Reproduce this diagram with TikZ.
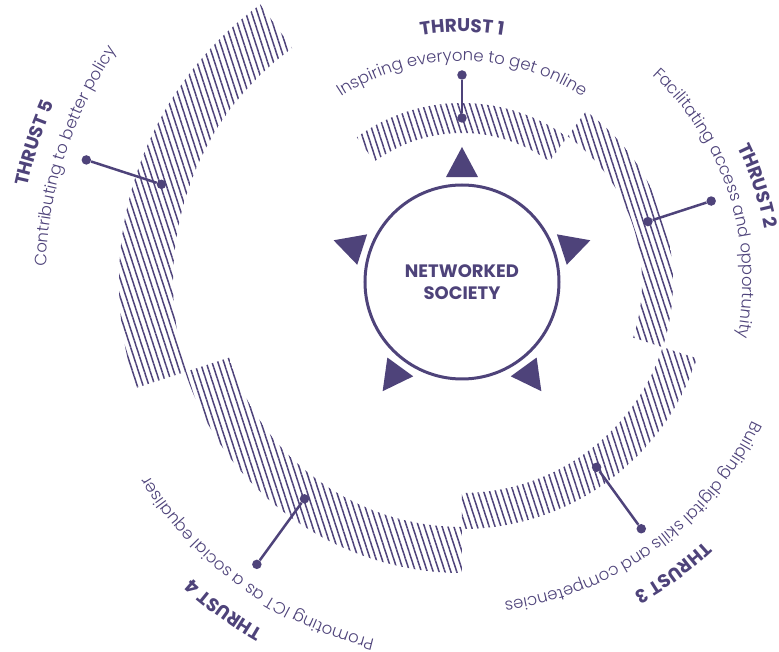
\documentclass[tikz,border=0pt]{standalone}
\usepackage{fontspec}
\setmainfont{Poppins}
\IfFontExistsTF{Poppins Light}{\newfontfamily\descfont{Poppins Light}}{%
  \IfFontExistsTF{Lato Light}{\newfontfamily\descfont{Lato Light}}{\newfontfamily\descfont{Poppins}}}
\usetikzlibrary{patterns.meta,decorations.text}
\definecolor{thrust}{HTML}{4E437A}
\newcommand\descfmt{\descfont\fontsize{16.5}{20}\selectfont}
\newcommand\headfmt{\bfseries\fontsize{18.5}{22}\selectfont}
\newcommand\curvetext[4]{%
  \path[decorate,decoration={text along path,text={|#3|#4},text align=center,text color=thrust}]
    ({#1+80}:#2) arc[start angle={#1+80},end angle={#1-80},radius=#2];}
\newcommand\hatchband[4]{%
  \fill[hatch] (#1:#3) arc[start angle=#1,end angle=#2,radius=#3]
    -- (#2:#4) arc[start angle=#2,end angle=#1,radius=#4] -- cycle;}
\newcommand\pointer[1]{%
  \fill[thrust] (#1:135) -- ({#1+8.66}:106.2) -- ({#1-8.66}:106.2) -- cycle;}
\begin{document}
\begin{tikzpicture}[x=1pt,y=1pt,
  hatch/.style={pattern={Lines[angle=-72,distance=5.6pt,line width=1.5pt]},pattern color=thrust},
  dot/.style={circle,fill=thrust,inner sep=0pt,minimum size=9.5pt},
  conn/.style={draw=thrust,line width=2.5pt},
  hub/.style={circle,draw=thrust,line width=3pt,minimum size=194pt,inner sep=0pt,
    align=center,font=\bfseries\fontsize{18}{22.5}\selectfont,text=thrust}]
\useasboundingbox (-462,-370) rectangle (317,282);
% hatched bands
\hatchband{54}{126}{149}{179}
\hatchband{-18}{54}{180}{211}
\hatchband{-90}{-18}{211}{247}
\hatchband{-162}{-90}{245}{291}
\hatchband{126}{198}{289}{343}
% centre
\node[hub] (hub) at (0,0) {NETWORKED\\SOCIETY};
\pointer{90}\pointer{18}\pointer{-54}\pointer{-126}\pointer{162}
% connectors
\node[dot] (i1) at (90:164) {};   \node[dot] (o1) at (90:207) {};
\node[dot] (i2) at (18:195.5) {}; \node[dot] (o2) at (18:262) {};
\node[dot] (i3) at (-54:229) {};  \node[dot] (o3) at (-54:305) {};
\node[dot] (i4) at (-126:268) {}; \node[dot] (o4) at (-126:349) {};
\node[dot] (i5) at (162:316) {};  \node[dot] (o5) at (162:395) {};
\draw[conn] (i1) -- (o1);
\draw[conn] (i2) -- (o2);
\draw[conn] (i3) -- (o3);
\draw[conn] (i4) -- (o4);
\draw[conn] (i5) -- (o5);
% texts
\curvetext{90}{221}{\descfmt}{Inspiring everyone to get online}
\curvetext{90}{250}{\headfmt}{THRUST 1}
\curvetext{18}{281}{\descfmt}{Facilitating access and opportunity}
\curvetext{18}{307}{\headfmt}{THRUST 2}
\curvetext{-54}{322}{\descfmt}{Building digital skills and competencies}
\curvetext{-54}{355}{\headfmt}{THRUST 3}
\curvetext{-126}{368}{\descfmt}{Promoting ICT as a social equaliser}
\curvetext{-126}{401}{\headfmt}{THRUST 4}
\curvetext{162}{416}{\descfmt}{Contributing to better policy}
\curvetext{162}{445}{\headfmt}{THRUST 5}
\end{tikzpicture}
\end{document}
